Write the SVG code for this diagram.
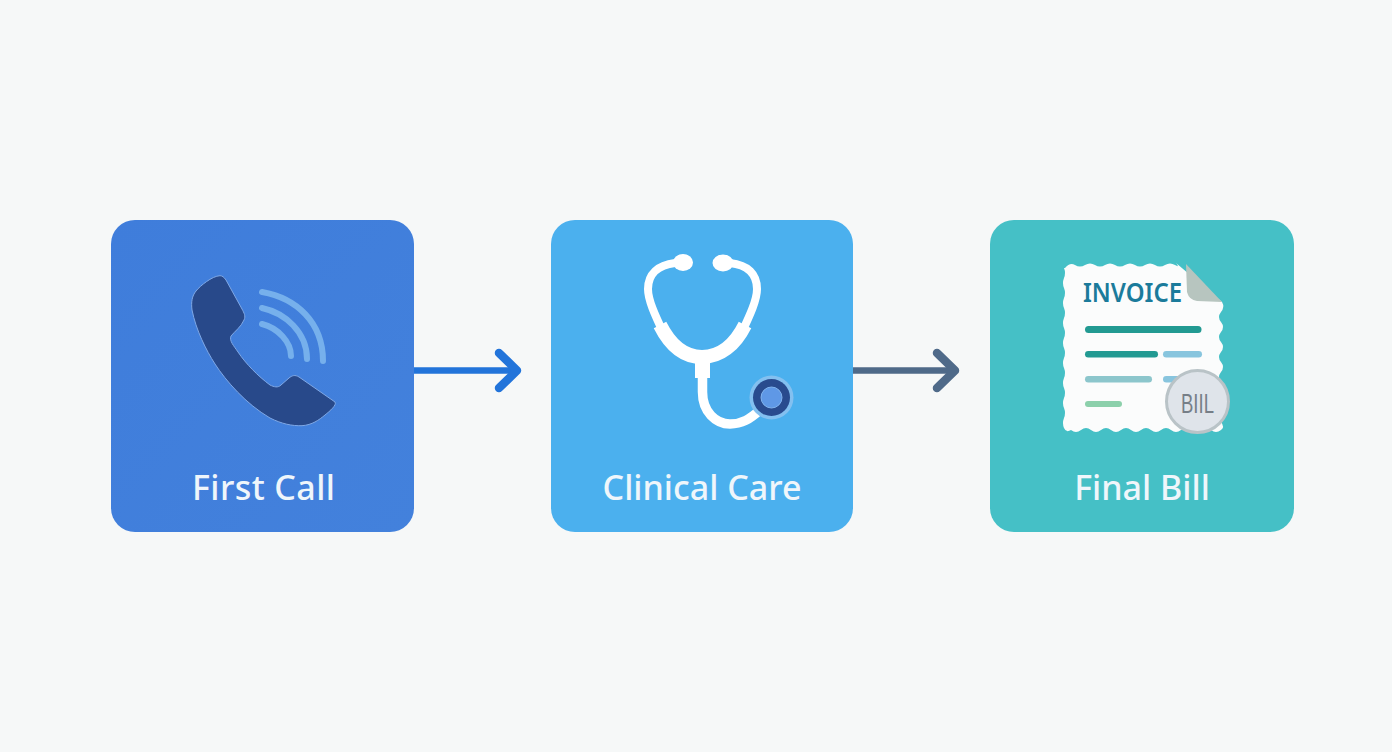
<svg xmlns="http://www.w3.org/2000/svg" width="1392" height="752" viewBox="0 0 1392 752">
<defs>
<linearGradient id="g1" x1="0" y1="0" x2="1" y2="1"><stop offset="0" stop-color="#3f7ddb"/><stop offset="1" stop-color="#4381dc"/></linearGradient>
<marker id="head1" markerUnits="userSpaceOnUse" markerWidth="40" markerHeight="50" refX="26" refY="22" orient="auto" overflow="visible"><path d="M8 4.500 L26 22 L8 39.500" fill="none" stroke="#2274da" stroke-width="8.500" stroke-linecap="round" stroke-linejoin="round"/></marker>
<marker id="head2" markerUnits="userSpaceOnUse" markerWidth="40" markerHeight="50" refX="26" refY="22" orient="auto" overflow="visible"><path d="M8 4.500 L26 22 L8 39.500" fill="none" stroke="#4f6a89" stroke-width="8.500" stroke-linecap="round" stroke-linejoin="round"/></marker>
</defs>
<style>
.box{stroke:none}
.label{font-family:"Noto Sans","Open Sans",sans-serif;font-size:34px;font-weight:500;fill:#eff6fb;text-anchor:middle}
.wave{fill:none;stroke:#76b0ec;stroke-width:6;stroke-linecap:round}
.tube{fill:none;stroke:#fff;stroke-linecap:butt;stroke-linejoin:round}
</style>
<rect width="1392" height="752" fill="#f6f8f8"/>
<g id="connectors">
<path d="M414 370.500 H517" fill="none" stroke="#2274da" stroke-width="6.500" marker-end="url(#head1)"/>
<path d="M853 370.500 H955" fill="none" stroke="#4f6a89" stroke-width="6.500" marker-end="url(#head2)"/>
</g>
<g id="first-call">
<rect class="box" x="111" y="220" width="303" height="312" rx="24" fill="url(#g1)"/>
<path d="M220 275.700 C212 276 200 286 196 291 C192 296 191 302 192 310 C196 330 206 350 215 364 C226 381 246 404 270 418 C282 424 292 426 302 425.700 C312 425 319 420 325 415 C330 411 337 405 335 402 L299 377 C295 374.500 292 375.500 289 378 L281 385 C278 388 274 387 270 385 C258 376 246 364 238 352 C234 346 229 341 231 336 C235 331 241 327 244 320 C246 316 244 313 242 309 L226 280 C224 277 222 275.700 220 275.700Z" fill="#28498a" stroke="#7fa8e6" stroke-width="1"/>
<path class="wave" d="M262 292 C296 298 323 322 323 361"/>
<path class="wave" d="M262 308 C285 313 307 332 307 359"/>
<path class="wave" d="M262 324 C278 328 291 342 291 356"/>
<text class="label" x="263.500" y="500" textLength="143" lengthAdjust="spacing">First Call</text>
</g>
<g id="clinical-care">
<rect class="box" x="551" y="220" width="302" height="312" rx="24" fill="#4bb0ee"/>
<path class="tube" stroke-width="8" d="M675 263 C658 265 648 274 648 289 C648 300 655 315 663 332"/>
<path class="tube" stroke-width="8" d="M730 263 C748 265 757 274 757 289 C757 300 750 315 742 332"/>
<path class="tube" stroke-width="14" d="M660 325 C670 345 684 357 702 357 C720 357 735 345 745 325"/>
<ellipse cx="683" cy="262.500" rx="10" ry="8.500" fill="#fff"/>
<ellipse cx="723" cy="263" rx="10.500" ry="8.500" fill="#fff"/>
<rect x="695" y="352" width="15" height="26" fill="#fff"/>
<path class="tube" stroke-width="9.500" d="M702.500 375 V392 C702.500 412 716 424 730 424 C742 424 750 419 760 410"/>
<circle cx="771.500" cy="397.500" r="22" fill="#83c0f0"/>
<circle cx="771.500" cy="397.500" r="18.500" fill="#294b8e"/>
<circle cx="771.500" cy="397.500" r="10.500" fill="#5f98e6" stroke="#82b4ee" stroke-width="1"/>
<text class="label" x="702" y="500">Clinical Care</text>
</g>
<g id="final-bill">
<rect class="box" x="990" y="220" width="304" height="312" rx="24" fill="#45c0c6"/>
<path d="M1065 268 q5 -6 10 -3 t10 0 t10 0 t10 0 t10 0 t10 0 t10 0 t10 0 t10 0 t10 0 t10 0 t1 -2 L1222 302 q3 5 -1 10 t0 10 t0 10 t0 10 t0 10 t0 10 t0 10 t0 10 t0 10 t0 10 t0 10 t0 10 t0 8 q-5 4 -10 0 t-10 0 t-10 0 t-10 0 t-10 0 t-10 0 t-10 0 t-10 0 t-10 0 t-10 0 t-10 0 t-10 0 t-10 0 t-10 0 t-10 0 q-5 3 -7 -2 t0 -10 t0 -10 t0 -10 t0 -10 t0 -10 t0 -10 t0 -10 t0 -10 t0 -10 t0 -10 t0 -10 t0 -10 t0 -10 t0 -10 t0 -10 t0 -10 Z" fill="#fbfcfc"/>
<path d="M1186 264 L1222 302 L1197 301 Q1189 300 1187 292 Z" fill="#b7c5bf"/>
<text x="1132.500" y="301.500" font-family="'Noto Sans','Open Sans',sans-serif" font-size="27" font-weight="600" fill="#1b7b9b" text-anchor="middle" textLength="99" lengthAdjust="spacingAndGlyphs">INVOICE</text>
<rect x="1085" y="326" width="116.500" height="7" rx="3.500" fill="#229a92"/>
<rect x="1085" y="351" width="73" height="6.500" rx="3.250" fill="#229a92"/>
<rect x="1163" y="351" width="39" height="6.500" rx="3.250" fill="#88c5de"/>
<rect x="1085" y="376" width="67" height="6.500" rx="3.250" fill="#8cc6cc"/>
<rect x="1163" y="376" width="30" height="6.500" rx="3.250" fill="#88c5de"/>
<rect x="1085" y="401" width="37" height="6" rx="3" fill="#8cd0ab"/>
<circle cx="1197.500" cy="401.500" r="31" fill="#dfe4ea" stroke="#b9c3c7" stroke-width="3"/>
<text x="1197.500" y="413" font-family="'Liberation Sans',sans-serif" font-size="28" fill="#767e87" text-anchor="middle" textLength="33" lengthAdjust="spacingAndGlyphs">BIIL</text>
<text class="label" x="1142" y="500">Final Bill</text>
</g>
</svg>
